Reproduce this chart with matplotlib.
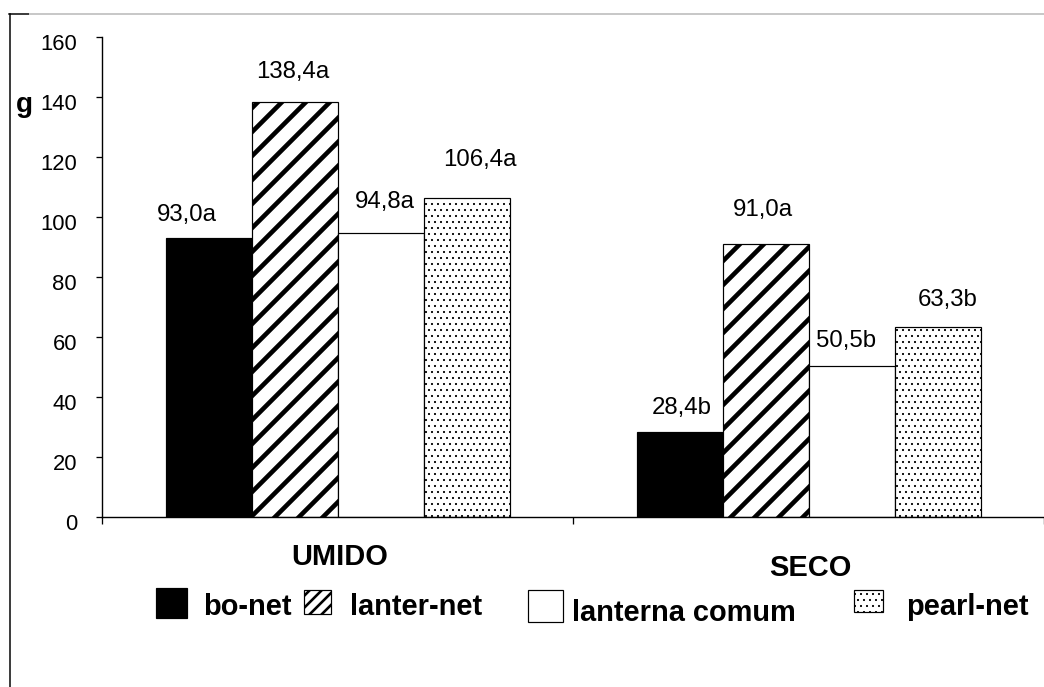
import matplotlib
matplotlib.use("Agg")
import matplotlib.pyplot as plt
from matplotlib.patches import Rectangle
from matplotlib.lines import Line2D
from matplotlib.transforms import ScaledTranslation
import numpy as np

plt.rcParams['font.family'] = ['Liberation Sans', 'DejaVu Sans']

# ---- data -------------------------------------------------------------
categories = ['UMIDO', 'SECO']
series_names = ['bo-net', 'lanter-net', 'lanterna comum', 'pearl-net']
bo_net = [93.0, 28.4]
lanter_net = [138.4, 91.0]
lanterna_comum = [94.8, 50.5]
pearl_net = [106.4, 63.3]
bo_net_letters = ['a', 'b']
lanter_net_letters = ['a', 'a']
lanterna_comum_letters = ['a', 'b']
pearl_net_letters = ['a', 'b']
y_ticks = [0, 20, 40, 60, 80, 100, 120, 140, 160]

values = [bo_net, lanter_net, lanterna_comum, pearl_net]
letters = [bo_net_letters, lanter_net_letters, lanterna_comum_letters, pearl_net_letters]

# ---- styles -----------------------------------------------------------
styles = [
    dict(facecolor='black', hatch=None, hlw=1.0),
    dict(facecolor='white', hatch='/', hlw=4.6),
    dict(facecolor='white', hatch=None, hlw=1.0),
    dict(facecolor='white', hatch='..', hlw=0.9),
]
# label nudges (dx, lift above bar top) in points, per series per category
label_nudge = [
    [(-22, 23), (2, 24)],
    [(-2, 30), (-3, 34)],
    [(4, 31), (-5, 25)],
    [(13, 38), (10, 27)],
]

W, H = 1044, 687
DPI = 72
fig = plt.figure(figsize=(W / DPI, H / DPI), dpi=DPI)


def fx(x):
    return x / W


def fy(y):
    return 1 - y / H


ax = fig.add_axes([fx(102), fy(517), (W - 102) / W, (517 - 37) / H])
ax.set_xlim(-0.5, 1.5)
ax.set_ylim(0, 160)

x = np.arange(len(categories))
bw = 86 / 471

for i, (vals, st) in enumerate(zip(values, styles)):
    with plt.rc_context({'hatch.linewidth': st['hlw']}):
        bars = ax.bar(x + (i - 1.5) * bw, vals, bw, facecolor=st['facecolor'],
                      edgecolor='black', linewidth=1.2, hatch=st['hatch'],
                      zorder=2)
    for b in bars:
        if hasattr(b, 'set_hatch_linewidth'):
            b.set_hatch_linewidth(st['hlw'])
    for j, v in enumerate(vals):
        dx, lift = label_nudge[i][j]
        txt = f"{v:.1f}".replace('.', ',') + letters[i][j]
        ax.annotate(txt, xy=(x[j] + (i - 1.5) * bw, v), xytext=(dx, lift),
                    textcoords='offset points', ha='center', va='center',
                    fontsize=24, color='black')

# axes styling
for s in ['top', 'right']:
    ax.spines[s].set_visible(False)
for s in ['left', 'bottom']:
    ax.spines[s].set_linewidth(1.4)
    ax.spines[s].set_color('black')
ax.set_yticks(y_ticks)
ax.set_yticklabels([str(t) for t in y_ticks])
ax.tick_params(axis='y', direction='out', length=6, width=1.3, pad=19,
               labelsize=22, colors='black')
ax.set_xticks([-0.5, 0.5, 1.5])
ax.set_xticklabels(['', '', ''])
ax.tick_params(axis='x', direction='out', length=7, width=1.3)
shift = ScaledTranslation(0, -5 / 72, fig.dpi_scale_trans)
for lab in ax.get_yticklabels():
    lab.set_transform(lab.get_transform() + shift)

# category names under the axis
cat_pos = [(340, 557), (810, 568)]
for name, (px, py) in zip(categories, cat_pos):
    fig.text(fx(px), fy(py), name, ha='center', va='center',
             fontsize=29, fontweight='bold')

# unit label
fig.text(fx(24), fy(112), 'g', ha='center', va='baseline',
         fontsize=28, fontweight='bold')

# legend row
legend_boxes = [(156, 588, 187, 618), (304, 590, 331, 614),
                (528, 590, 563, 622), (854, 590, 883, 612)]
legend_text = [(203, 615), (350, 615), (572, 621), (906, 615)]
for name, st, (x0, y0, x1, y1), (tx, ty) in zip(series_names, styles,
                                                 legend_boxes, legend_text):
    hatch = '//' if st['hatch'] == '/' else st['hatch']
    hlw = 2.6 if st['hatch'] == '/' else st['hlw']
    with plt.rc_context({'hatch.linewidth': hlw}):
        r = Rectangle((fx(x0), fy(y1)), (x1 - x0) / W, (y1 - y0) / H,
                      transform=fig.transFigure, facecolor=st['facecolor'],
                      edgecolor='black', linewidth=1.2, hatch=hatch)
    if hasattr(r, 'set_hatch_linewidth'):
        r.set_hatch_linewidth(hlw)
    fig.patches.append(r)
    fig.text(fx(tx), fy(ty), name, ha='left', va='baseline',
             fontsize=29, fontweight='bold')

# chart frame lines
fig.lines.append(Line2D([fx(10), fx(10)], [fy(14), fy(690)],
                        transform=fig.transFigure, color='black', linewidth=1.5))
fig.lines.append(Line2D([fx(9), fx(29)], [fy(14), fy(14)],
                        transform=fig.transFigure, color='black', linewidth=1.5))
fig.lines.append(Line2D([fx(30), fx(1044)], [fy(14), fy(14)],
                        transform=fig.transFigure, color='#c8c8c8', linewidth=2))

fig.savefig('out.png', dpi=DPI)
